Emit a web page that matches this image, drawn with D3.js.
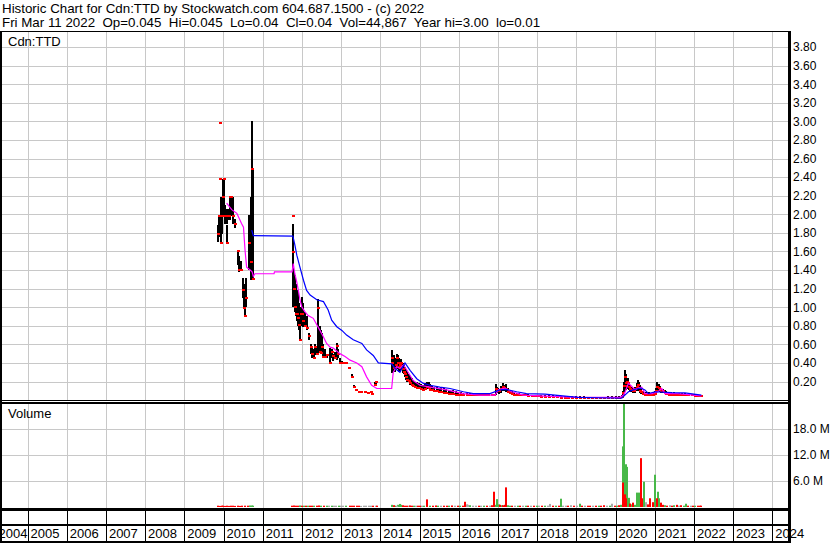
<!DOCTYPE html>
<html><head><meta charset="utf-8">
<script src="https://cdnjs.cloudflare.com/ajax/libs/d3/7.8.5/d3.min.js"></script>
<style>
body{margin:0;background:#fff;}
svg{display:block;font-family:"Liberation Sans",Arial,sans-serif;}
text{white-space:pre;}
</style></head><body><div id="chart"></div>
<script>
const headerLines = [
  "Historic Chart for Cdn:TTD by Stockwatch.com 604.687.1500 - (c) 2022",
  "Fri Mar 11 2022  Op=0.045  Hi=0.045  Lo=0.04  Cl=0.04  Vol=44,867  Year hi=3.00  lo=0.01"
];
const symbolLabel = "Cdn:TTD";
const volumeLabel = "Volume";
const yearTicks = [2004,2005,2006,2007,2008,2009,2010,2011,2012,2013,2014,2015,2016,2017,2018,2019,2020,2021,2022,2023,2024];
const priceTicks = [0.2,0.4,0.6,0.8,1.0,1.2,1.4,1.6,1.8,2.0,2.2,2.4,2.6,2.8,3.0,3.2,3.4,3.6,3.8];
const volumeTicks = [6,12,18];

// [year, high, low, close]
const bars2009 = [
[2009.86,1.88,1.70,1.79],[2009.88,1.98,1.75,1.98],[2009.91,2.98,2.98,2.98],[2009.92,2.38,2.38,2.38],
[2009.94,2.19,1.69,1.69],[2009.97,2.19,1.79,1.98],[2010.00,2.38,2.01,2.19],[2010.02,2.38,1.98,2.38],
[2010.05,2.10,1.90,1.98],[2010.08,1.88,1.69,1.69],[2010.10,2.06,1.90,1.98],[2010.14,2.06,1.94,1.98],
[2010.17,2.19,1.94,2.19],[2010.20,2.19,1.98,2.19],[2010.23,2.19,1.90,1.98],[2010.30,1.95,1.85,1.90],
[2010.36,1.60,1.45,1.60],[2010.40,1.55,1.38,1.40],[2010.45,1.50,1.40,1.40],[2010.49,1.31,1.10,1.18],
[2010.52,1.25,0.99,0.99],[2010.55,1.10,0.90,0.90],[2010.58,1.31,1.00,1.10],[2010.65,1.99,1.40,1.69],
[2010.69,2.19,1.29,1.49],[2010.72,3.00,1.33,2.49],[2010.74,2.50,1.30,1.30]
];
const bars2011 = [
[2011.765,1.98,1.98,1.98],[2011.78,1.90,1.00,1.59],[2011.80,1.40,1.10,1.20],[2011.82,1.35,0.95,1.00],
[2011.85,1.25,0.90,0.93],[2011.88,1.15,0.85,0.93],[2011.90,1.18,0.80,0.88],[2011.93,1.05,0.75,0.81],
[2011.95,0.95,0.65,0.65],[2011.98,1.00,0.80,0.93],[2012.01,1.11,0.80,0.93],[2012.04,1.05,0.79,0.85],
[2012.08,0.95,0.80,0.80],[2012.12,0.90,0.75,0.78],[2012.19,0.72,0.65,0.69],[2012.23,0.60,0.50,0.57],
[2012.27,0.57,0.45,0.50],[2012.30,0.55,0.45,0.45],[2012.34,0.60,0.48,0.57],[2012.38,0.58,0.48,0.50],
[2012.42,1.09,0.50,0.99],[2012.45,0.80,0.52,0.52],[2012.48,0.75,0.52,0.51],[2012.51,0.72,0.55,0.57],
[2012.54,0.60,0.46,0.46],[2012.58,0.55,0.45,0.46],[2012.63,0.50,0.45,0.48],[2012.72,0.56,0.40,0.40],
[2012.76,0.55,0.45,0.52],[2012.80,0.50,0.42,0.47],[2012.84,0.52,0.45,0.45],[2012.89,0.61,0.43,0.58],
[2012.93,0.55,0.45,0.50],[2012.97,0.45,0.40,0.40],[2013.02,0.42,0.40,0.40],[2013.07,0.40,0.40,0.40],
[2013.12,0.40,0.40,0.40],[2013.20,0.36,0.34,0.35],[2013.28,0.28,0.25,0.25],[2013.33,0.16,0.14,0.14],
[2013.38,0.12,0.11,0.11],[2013.45,0.10,0.09,0.09],[2013.52,0.10,0.09,0.09],[2013.60,0.10,0.09,0.09],
[2013.68,0.09,0.08,0.08],[2013.75,0.10,0.09,0.09],[2013.80,0.08,0.07,0.07],[2013.86,0.20,0.16,0.16],
[2013.90,0.21,0.17,0.20]
];
const bars2014 = [
[2014.29,0.54,0.29,0.45],[2014.31,0.50,0.32,0.40],[2014.34,0.48,0.30,0.35],[2014.37,0.42,0.30,0.33],
[2014.40,0.45,0.32,0.38],[2014.42,0.50,0.35,0.45],[2014.45,0.48,0.34,0.40],[2014.48,0.45,0.30,0.36],
[2014.51,0.42,0.30,0.38],[2014.54,0.44,0.32,0.40],[2014.57,0.40,0.29,0.33],[2014.60,0.38,0.28,0.30],
[2014.63,0.36,0.25,0.28],[2014.66,0.34,0.22,0.25],[2014.69,0.30,0.20,0.22],[2014.72,0.28,0.19,0.21],
[2014.76,0.26,0.16,0.18],[2014.80,0.24,0.15,0.16],[2014.84,0.22,0.14,0.15],[2014.88,0.20,0.13,0.14],
[2014.93,0.19,0.12,0.13],[2014.98,0.18,0.12,0.13],[2015.03,0.17,0.11,0.12],[2015.08,0.16,0.10,0.11],
[2015.13,0.18,0.11,0.12],[2015.18,0.20,0.12,0.14],[2015.23,0.19,0.12,0.13],[2015.28,0.17,0.10,0.11],
[2015.33,0.15,0.10,0.11],[2015.38,0.14,0.09,0.10],[2015.44,0.15,0.09,0.10],[2015.50,0.13,0.08,0.09],
[2015.56,0.14,0.08,0.09],[2015.62,0.13,0.07,0.08],[2015.68,0.12,0.07,0.08],[2015.74,0.11,0.06,0.07],
[2015.80,0.10,0.06,0.07],[2015.86,0.11,0.06,0.07],[2015.92,0.10,0.05,0.06],[2015.98,0.09,0.05,0.06],
[2016.05,0.09,0.05,0.06],[2016.12,0.08,0.05,0.06],[2016.20,0.08,0.04,0.05],[2016.28,0.08,0.04,0.05],
[2016.36,0.07,0.04,0.05],[2016.44,0.07,0.04,0.05],[2016.52,0.07,0.04,0.05],[2016.60,0.07,0.04,0.05],
[2016.68,0.07,0.04,0.05],[2016.76,0.07,0.04,0.05],[2016.84,0.07,0.04,0.05],[2016.90,0.07,0.04,0.05],
[2016.94,0.17,0.06,0.12],[2016.97,0.14,0.08,0.10],[2017.00,0.13,0.08,0.11],[2017.04,0.12,0.07,0.10],
[2017.08,0.15,0.08,0.12],[2017.12,0.18,0.10,0.14],[2017.16,0.16,0.10,0.13],[2017.20,0.17,0.09,0.12],
[2017.25,0.13,0.08,0.09],[2017.30,0.11,0.07,0.08],[2017.36,0.10,0.06,0.07],[2017.42,0.09,0.05,0.06],
[2017.48,0.08,0.05,0.06],[2017.55,0.08,0.04,0.05],[2017.62,0.07,0.04,0.05],[2017.70,0.07,0.04,0.05],
[2017.78,0.07,0.035,0.04],[2017.86,0.06,0.035,0.04],[2017.94,0.06,0.03,0.04],[2018.02,0.06,0.03,0.04],
[2018.10,0.06,0.03,0.035],[2018.20,0.055,0.025,0.035],[2018.30,0.05,0.025,0.03],[2018.40,0.05,0.02,0.03],
[2018.50,0.05,0.02,0.03],[2018.60,0.045,0.02,0.025],[2018.70,0.045,0.02,0.025],[2018.80,0.04,0.015,0.02],
[2018.90,0.04,0.015,0.02],[2019.00,0.04,0.015,0.02],[2019.10,0.04,0.015,0.02],[2019.20,0.04,0.015,0.02],
[2019.30,0.035,0.01,0.02],[2019.40,0.035,0.01,0.02],[2019.50,0.035,0.01,0.02],[2019.60,0.035,0.01,0.02],
[2019.70,0.035,0.01,0.02],[2019.80,0.04,0.015,0.02],[2019.90,0.04,0.015,0.02],[2020.00,0.04,0.015,0.02],
[2020.08,0.045,0.015,0.025],[2020.16,0.05,0.02,0.03],[2020.20,0.10,0.03,0.08],[2020.22,0.20,0.06,0.15],
[2020.24,0.32,0.10,0.25],[2020.26,0.28,0.12,0.18],[2020.28,0.24,0.11,0.15],[2020.30,0.22,0.12,0.20],
[2020.32,0.24,0.13,0.18],[2020.35,0.20,0.11,0.14],[2020.38,0.16,0.09,0.12],[2020.41,0.14,0.09,0.11],
[2020.44,0.13,0.08,0.10],[2020.47,0.12,0.08,0.10],[2020.50,0.14,0.08,0.12],[2020.54,0.18,0.10,0.14],
[2020.57,0.22,0.11,0.16],[2020.60,0.20,0.10,0.13],[2020.63,0.16,0.08,0.10],[2020.66,0.12,0.07,0.09],
[2020.70,0.10,0.06,0.07],[2020.75,0.09,0.05,0.06],[2020.80,0.09,0.05,0.06],[2020.85,0.09,0.05,0.06],
[2020.90,0.08,0.05,0.06],[2020.95,0.09,0.05,0.06],[2021.00,0.10,0.05,0.07],[2021.04,0.13,0.07,0.10],
[2021.07,0.19,0.09,0.14],[2021.10,0.17,0.10,0.13],[2021.13,0.15,0.09,0.12],[2021.17,0.13,0.08,0.10],
[2021.21,0.12,0.08,0.10],[2021.25,0.11,0.07,0.08],[2021.30,0.10,0.06,0.07],[2021.36,0.09,0.05,0.06],
[2021.42,0.09,0.05,0.06],[2021.48,0.09,0.05,0.06],[2021.55,0.08,0.045,0.055],[2021.62,0.08,0.045,0.055],
[2021.70,0.075,0.04,0.05],[2021.78,0.075,0.04,0.05],[2021.86,0.07,0.04,0.05],[2021.94,0.07,0.04,0.05],
[2022.02,0.065,0.035,0.045],[2022.10,0.06,0.035,0.045],[2022.19,0.045,0.04,0.04]
];
// short moving average (magenta) [year, value]
const maShort = [
[2010.08,2.12],[2010.21,2.05],[2010.34,2.01],[2010.46,1.90],[2010.51,1.86],[2010.55,1.61],[2010.59,1.43],
[2010.68,1.40],[2010.73,1.38],[2010.76,1.33],[2010.80,1.36],[2011.29,1.36],[2011.30,1.38],[2011.75,1.38],
[2011.78,1.47],[2011.82,1.36],[2011.87,1.27],[2011.91,1.18],[2011.95,1.08],[2012.00,1.00],[2012.08,0.95],
[2012.16,0.91],[2012.29,0.88],[2012.38,0.81],[2012.46,0.75],[2012.55,0.68],[2012.63,0.61],[2012.72,0.57],
[2012.80,0.56],[2012.97,0.50],[2013.10,0.47],[2013.23,0.43],[2013.40,0.40],[2013.53,0.36],[2013.65,0.25],
[2013.78,0.16],[2013.91,0.125],[2014.29,0.125],[2014.33,0.30],[2014.42,0.36],[2014.50,0.34],[2014.59,0.38],
[2014.71,0.30],[2014.84,0.21],[2015.01,0.16],[2015.27,0.14],[2015.69,0.11],[2016.11,0.07],[2016.54,0.054],
[2016.93,0.054],[2017.01,0.11],[2017.18,0.13],[2017.35,0.09],[2017.65,0.054],[2018.20,0.043],[2019.09,0.03],
[2019.61,0.03],[2020.12,0.03],[2020.22,0.06],[2020.33,0.18],[2020.41,0.15],[2020.50,0.11],[2020.58,0.13],
[2020.67,0.14],[2020.75,0.07],[2020.93,0.07],[2021.08,0.09],[2021.18,0.125],[2021.26,0.07],[2021.59,0.07],
[2022.19,0.045]
];
// long moving average (blue) [year, value]
const maLong = [
[2010.72,1.83],[2010.76,1.77],[2011.77,1.765],[2011.82,1.67],[2011.87,1.56],[2011.95,1.43],[2012.04,1.29],
[2012.12,1.18],[2012.21,1.13],[2012.38,1.08],[2012.55,1.06],[2012.67,0.97],[2012.76,0.86],[2012.89,0.79],
[2013.02,0.75],[2013.14,0.70],[2013.31,0.65],[2013.53,0.61],[2013.65,0.54],[2013.82,0.48],[2013.95,0.40],
[2014.29,0.39],[2014.38,0.34],[2014.50,0.30],[2014.63,0.40],[2014.76,0.32],[2014.93,0.23],[2015.10,0.18],
[2015.27,0.16],[2015.52,0.14],[2015.78,0.125],[2016.12,0.09],[2016.37,0.07],[2016.80,0.07],[2017.05,0.11],
[2017.22,0.115],[2017.48,0.09],[2017.73,0.07],[2018.20,0.065],[2019.04,0.03],[2020.16,0.02],[2020.24,0.054],
[2020.33,0.09],[2020.45,0.11],[2020.58,0.125],[2020.65,0.13],[2020.75,0.11],[2020.84,0.07],[2021.01,0.09],
[2021.43,0.08],[2021.77,0.078],[2022.19,0.054]
];
// volume [year, millions, u=up d=down n=unchanged]
const volumes = [
[2009.86,0.3,'d'],[2009.9,0.25,'d'],[2009.95,0.3,'d'],[2010.0,0.3,'d'],[2010.05,0.25,'d'],[2010.1,0.3,'d'],
[2010.15,0.25,'d'],[2010.2,0.3,'d'],[2010.25,0.3,'d'],[2010.3,0.25,'d'],[2010.36,0.3,'d'],[2010.42,0.25,'d'],
[2010.48,0.3,'d'],[2010.55,0.3,'d'],[2010.62,0.3,'d'],[2010.68,0.35,'u'],[2010.72,0.35,'u'],[2010.76,0.3,'u'],
[2011.76,0.3,'d'],[2011.8,0.35,'d'],[2011.85,0.3,'d'],[2011.9,0.3,'d'],[2011.95,0.35,'u'],[2012.0,0.3,'d'],
[2012.05,0.3,'u'],[2012.1,0.3,'d'],[2012.15,0.3,'u'],[2012.2,0.3,'d'],[2012.26,0.3,'d'],[2012.32,0.3,'u'],
[2012.38,0.3,'d'],[2012.44,0.35,'d'],[2012.5,0.3,'u'],[2012.56,0.3,'d'],[2012.64,0.3,'u'],[2012.7,0.3,'n'],
[2012.76,0.3,'u'],[2012.82,0.3,'n'],[2012.88,0.3,'n'],[2012.94,0.3,'u'],[2013.0,0.3,'n'],[2013.06,0.3,'n'],
[2013.12,0.3,'u'],[2013.22,0.3,'d'],[2013.28,0.3,'d'],[2013.34,0.3,'d'],[2013.4,0.3,'d'],[2013.46,0.3,'d'],
[2013.52,0.25,'n'],[2013.58,0.3,'n'],[2013.64,0.3,'n'],[2013.7,0.3,'n'],[2013.76,0.3,'n'],[2013.82,0.3,'d'],
[2013.88,0.3,'n'],[2013.92,0.3,'d'],
[2014.3,0.5,'u'],[2014.34,0.4,'d'],[2014.38,0.3,'u'],[2014.42,0.3,'n'],[2014.46,0.5,'u'],[2014.5,0.7,'u'],
[2014.54,0.5,'u'],[2014.58,0.4,'d'],[2014.62,0.3,'d'],[2014.67,0.3,'d'],[2014.72,0.3,'n'],[2014.77,0.35,'d'],
[2014.82,0.3,'d'],[2014.87,0.3,'u'],[2014.92,0.3,'n'],[2014.97,0.3,'d'],[2015.02,0.3,'d'],[2015.07,0.3,'n'],
[2015.12,0.3,'u'],[2015.2,1.75,'d'],[2015.27,0.3,'u'],[2015.34,0.3,'d'],[2015.41,0.35,'d'],[2015.48,0.3,'u'],
[2015.55,0.3,'n'],[2015.62,0.3,'d'],[2015.69,0.3,'d'],[2015.76,0.3,'u'],[2015.83,0.35,'d'],[2015.9,0.3,'n'],
[2015.97,0.3,'d'],[2016.04,0.3,'u'],[2016.11,0.3,'d'],[2016.16,1.2,'d'],[2016.2,0.6,'n'],[2016.24,0.5,'n'],
[2016.3,0.4,'u'],[2016.37,0.3,'n'],[2016.44,0.3,'n'],[2016.51,0.3,'d'],[2016.58,0.3,'n'],[2016.65,0.3,'u'],
[2016.72,0.3,'d'],[2016.79,0.3,'n'],[2016.85,0.4,'d'],[2016.89,3.5,'d'],[2016.91,3.2,'d'],[2016.95,0.5,'u'],
[2016.98,1.8,'u'],[2017.02,0.6,'u'],[2017.06,0.5,'d'],[2017.1,0.4,'u'],[2017.14,0.4,'d'],[2017.18,0.5,'d'],
[2017.21,4.5,'d'],[2017.25,0.4,'u'],[2017.3,0.3,'u'],[2017.36,0.3,'d'],[2017.43,0.3,'n'],[2017.5,0.3,'u'],
[2017.57,0.3,'d'],[2017.64,0.3,'n'],[2017.71,0.3,'u'],[2017.78,0.3,'d'],[2017.85,0.3,'n'],[2017.92,0.3,'d'],
[2017.99,0.3,'u'],[2018.06,0.3,'n'],[2018.13,0.3,'d'],[2018.2,0.3,'u'],[2018.27,0.3,'n'],[2018.34,0.7,'n'],
[2018.41,0.3,'d'],[2018.48,0.3,'u'],[2018.55,0.3,'d'],[2018.62,1.9,'u'],[2018.66,0.3,'n'],[2018.73,0.3,'n'],
[2018.8,0.3,'d'],[2018.87,0.4,'n'],[2018.94,0.3,'d'],[2019.01,0.3,'n'],[2019.09,0.75,'u'],[2019.15,0.3,'d'],
[2019.22,0.3,'n'],[2019.29,0.3,'d'],[2019.36,0.3,'d'],[2019.43,0.3,'n'],[2019.5,0.3,'d'],[2019.57,0.3,'u'],
[2019.64,0.3,'d'],[2019.71,0.4,'d'],[2019.78,0.3,'n'],[2019.85,0.3,'u'],[2019.92,0.75,'n'],[2019.99,0.3,'d'],
[2020.05,0.3,'u'],[2020.1,0.4,'d'],[2020.15,0.5,'u'],
[2020.184,13.9,'u'],[2020.20,5.6,'d'],[2020.225,24,'u'],[2020.24,2.9,'d'],[2020.26,9.8,'u'],[2020.28,2.0,'d'],
[2020.30,9.2,'u'],[2020.335,2.1,'u'],[2020.37,0.8,'d'],[2020.41,0.6,'u'],[2020.45,1.0,'d'],[2020.49,0.5,'u'],
[2020.54,3.3,'u'],[2020.60,3.3,'u'],[2020.64,11.2,'d'],[2020.68,2.0,'d'],[2020.72,5.8,'u'],[2020.79,1.1,'n'],
[2020.83,0.6,'d'],[2020.89,2.0,'d'],[2020.95,1.1,'d'],[2021.01,7.4,'u'],[2021.05,2.0,'d'],[2021.09,3.5,'u'],
[2021.12,2.0,'u'],[2021.15,1.0,'d'],[2021.2,0.5,'d'],[2021.26,0.4,'u'],[2021.32,0.3,'d'],[2021.38,0.4,'n'],
[2021.44,0.3,'d'],[2021.5,0.4,'u'],[2021.56,0.5,'d'],[2021.62,0.3,'n'],[2021.68,0.4,'d'],[2021.74,0.3,'u'],
[2021.8,0.75,'u'],[2021.86,0.3,'d'],[2021.92,0.3,'n'],[2021.98,0.3,'d'],[2022.04,0.3,'u'],[2022.1,0.3,'d'],
[2022.16,0.3,'d'],[2022.19,0.3,'d']
];

const W = 830, H = 543;
const left = 2, right = 789;
const priceTop = 31, priceBottom = 400;
const volTop = 404, volBottom = 508;
const FONT = '"Liberation Sans",Arial,sans-serif';

const x = d3.scaleLinear().domain([2004, 2024]).range([-11.7, 772.3]);
const yP = d3.scaleLinear().domain([0, 3.8]).range([400.1, 47]);
const yV = d3.scaleLinear().domain([0, 18]).range([507, 428.5]);
const volColor = {u: "#48b848", d: "#ff0000", n: "#a8a8a8"};

const svg = d3.select("#chart").append("svg").attr("width", W).attr("height", H);
svg.append("rect").attr("width", W).attr("height", H).attr("fill", "#fff");

// header
svg.selectAll("text.hdr").data(headerLines).join("text").attr("class","hdr")
  .attr("x", 2).attr("y", (d,i) => 12.5 + i*14).attr("font-size", 13.33).attr("fill", "#000").text(d => d);

const defs = svg.append("defs");
defs.append("clipPath").attr("id","cp").append("rect").attr("x",left).attr("y",priceTop).attr("width",right-left).attr("height",priceBottom-priceTop);
defs.append("clipPath").attr("id","cv").append("rect").attr("x",left).attr("y",volTop).attr("width",right-left).attr("height",volBottom-volTop);

const gridColor = "#c8c8c8";
// price grid
const pg = svg.append("g").attr("clip-path","url(#cp)");
pg.selectAll("line.h").data(priceTicks).join("line")
  .attr("x1", left).attr("x2", right).attr("y1", d => Math.round(yP(d))+0.5).attr("y2", d => Math.round(yP(d))+0.5)
  .attr("stroke", gridColor);
pg.selectAll("line.v").data(yearTicks).join("line")
  .attr("x1", d => Math.round(x(d))+0.5).attr("x2", d => Math.round(x(d))+0.5).attr("y1", priceTop).attr("y2", priceBottom)
  .attr("stroke", gridColor);
// volume grid
const vg = svg.append("g").attr("clip-path","url(#cv)");
vg.selectAll("line.h").data(volumeTicks).join("line")
  .attr("x1", left).attr("x2", right).attr("y1", d => Math.round(yV(d))+0.5).attr("y2", d => Math.round(yV(d))+0.5)
  .attr("stroke", gridColor);
vg.selectAll("line.v").data(yearTicks).join("line")
  .attr("x1", d => Math.round(x(d))+0.5).attr("x2", d => Math.round(x(d))+0.5).attr("y1", volTop).attr("y2", volBottom)
  .attr("stroke", gridColor);

// price bars
const allBars = bars2009.concat(bars2011, bars2014);
pg.selectAll("rect.bar").data(allBars).join("rect")
  .attr("x", d => Math.round(x(d[0])) - 1).attr("width", 2)
  .attr("y", d => Math.round(yP(d[1]))).attr("height", d => Math.max(1, Math.round(yP(d[2])) - Math.round(yP(d[1]))))
  .attr("fill", "#000");
pg.selectAll("rect.cl").data(allBars).join("rect")
  .attr("x", d => Math.round(x(d[0])) - 1).attr("width", 3)
  .attr("y", d => Math.round(yP(d[3])) - 1).attr("height", 2)
  .attr("fill", "#ff0000");
const line = d3.line().x(d => x(d[0])).y(d => yP(d[1]));
pg.append("path").datum(maShort).attr("d", line).attr("fill","none").attr("stroke","#ff00ff").attr("stroke-width",1.2);
pg.append("path").datum(maLong).attr("d", line).attr("fill","none").attr("stroke","#0000ff").attr("stroke-width",1.2);

// volume bars
const volSorted = volumes.slice().sort((a,b) => (a[2]==='u'?0:1) - (b[2]==='u'?0:1));
vg.selectAll("rect.vol").data(volSorted).join("rect")
  .attr("x", d => Math.round(x(d[0])) - 1).attr("width", 2)
  .attr("y", d => yV(d[1])).attr("height", d => yV(0) - yV(d[1]))
  .attr("fill", d => volColor[d[2]]);

// labels
svg.append("text").attr("x", 8).attr("y", 46).attr("font-size", 13).attr("fill","#000").text(symbolLabel);
svg.append("text").attr("x", 8).attr("y", 418).attr("font-size", 13).attr("fill","#000").text(volumeLabel);

// right axes
const pAxis = svg.append("g").attr("transform", `translate(${right+1},0)`)
  .call(d3.axisRight(yP).tickValues(priceTicks).tickSize(0).tickPadding(3).tickFormat(d3.format(".2f")));
pAxis.select(".domain").remove();
pAxis.selectAll("text").attr("font-size", 12).attr("font-family", FONT).attr("fill","#000");
const vAxis = svg.append("g").attr("transform", `translate(${right+1},0)`)
  .call(d3.axisRight(yV).tickValues(volumeTicks).tickSize(0).tickPadding(3).tickFormat(d => d.toFixed(1) + " M"));
vAxis.select(".domain").remove();
vAxis.selectAll("text").attr("font-size", 12).attr("font-family", FONT).attr("fill","#000");

// year axis
const xAxisG = svg.append("g").attr("transform", "translate(0,510)")
  .call(d3.axisBottom(x).tickValues(yearTicks).tickSize(31).tickFormat(d3.format("d")));
xAxisG.select(".domain").remove();
xAxisG.selectAll(".tick line").attr("stroke", "#000").attr("shape-rendering","crispEdges");
xAxisG.selectAll(".tick text").attr("font-size", 13).attr("font-family", FONT)
  .attr("fill","#000").attr("text-anchor","start").attr("dy", 0).attr("y", 28)
  .attr("x", d => Math.max(2.5, -2 - x(d)));

// frame
const frame = svg.append("g").attr("fill","#000");
frame.append("rect").attr("x",0).attr("y",31).attr("width",right+2).attr("height",1);
frame.append("rect").attr("x",0).attr("y",31).attr("width",2).attr("height",H-31);
frame.append("rect").attr("x",right-1).attr("y",31).attr("width",3).attr("height",H-31);
frame.append("rect").attr("x",0).attr("y",400).attr("width",right+2).attr("height",1);
frame.append("rect").attr("x",0).attr("y",402).attr("width",right+2).attr("height",2);
frame.append("rect").attr("x",0).attr("y",508).attr("width",right+2).attr("height",3);
frame.append("rect").attr("x",0).attr("y",524).attr("width",right+2).attr("height",2);
frame.append("rect").attr("x",0).attr("y",541).attr("width",right+2).attr("height",2);
</script></body></html>
